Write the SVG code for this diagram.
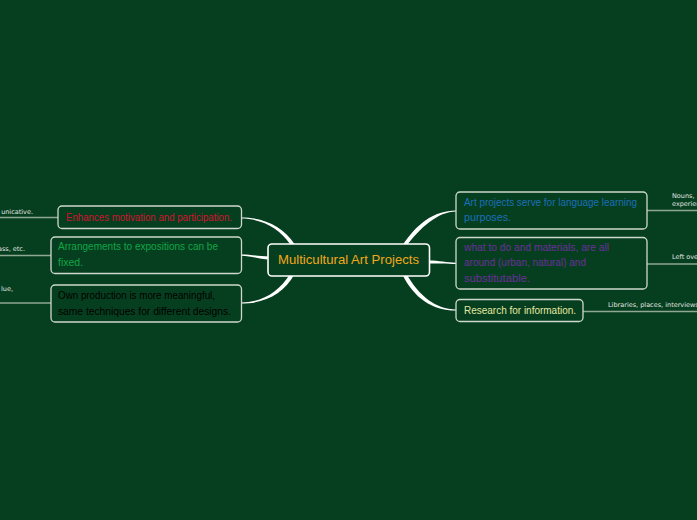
<svg xmlns="http://www.w3.org/2000/svg" width="697" height="520" viewBox="0 0 697 520">
<style>
.bg{fill:#063f1f}
.box{fill:#063f1f;stroke:#cfd8cf;stroke-width:1.3}
.main{fill:#063f1f;stroke:#ffffff;stroke-width:1.6}
.t{font-family:"Liberation Sans",Arial,sans-serif;font-size:10.5px}
.mt{font-family:"Liberation Sans",Arial,sans-serif;font-size:13px;fill:#f2a81a}
.s{font-family:"DejaVu Sans","Liberation Sans",sans-serif;font-size:6.5px;fill:#e0e6e0}
.ln{stroke:#8ea894;stroke-width:1.3;fill:none}
.br{fill:#ffffff}
</style>
<rect class="bg" x="0" y="0" width="697" height="520"/>
<g id="connectors">
<path class="br" d="M241,217.4 C263,217.4 283,226 294.5,244 L290,244 C279,228 262,218.6 241,218.6 Z"/>
<path class="br" d="M241,254.5 C252,254.5 258,256.5 270,256.5 L270,259.5 C258,259.5 252,255.7 241,255.7 Z"/>
<path class="br" d="M290,274 C279,292 262,302.4 241,302.4 L241,303.6 C264,303.6 284,294 294.5,274 Z"/>
<path class="br" d="M402,246 C416,224 434,210.4 456,210.4 L456,211.6 C438,211.6 420,228 406.5,246 Z"/>
<path class="br" d="M428,260.5 C440,260.5 446,262.7 456,262.7 L456,263.9 C446,263.9 440,263.5 428,263.5 Z"/>
<path class="br" d="M402,274 C414,298 432,310.6 456,310.6 L456,309.4 C436,309.4 419,296 406.5,274 Z"/>
<line class="ln" x1="0" y1="217.5" x2="58" y2="217.5"/>
<line class="ln" x1="0" y1="255.5" x2="51" y2="255.5"/>
<line class="ln" x1="0" y1="303" x2="51" y2="303"/>
<line class="ln" x1="647" y1="210.5" x2="697" y2="210.5"/>
<line class="ln" x1="647" y1="264" x2="697" y2="264"/>
<line class="ln" x1="583" y1="311.5" x2="697" y2="311.5"/>
</g>
<g id="center">
<rect class="main" x="268" y="244" width="161.5" height="32" rx="4"/>
<text class="mt" x="278" y="264" textLength="141" lengthAdjust="spacingAndGlyphs">Multicultural Art Projects</text>
</g>
<g id="left1">
<rect class="box" x="58" y="206" width="183.5" height="22.5" rx="4"/>
<text class="t" x="66" y="221" fill="#d0122e" textLength="166" lengthAdjust="spacingAndGlyphs">Enhances motivation and participation.</text>
<text class="s" x="33" y="213.5" text-anchor="end">unicative.</text>
</g>
<g id="left2">
<rect class="box" x="51" y="237" width="190.5" height="36.5" rx="4"/>
<text class="t" x="58" y="250" fill="#12a548" textLength="160" lengthAdjust="spacingAndGlyphs">Arrangements to expositions can be</text>
<text class="t" x="58" y="266" fill="#12a548">fixed.</text>
<text class="s" x="25" y="251" text-anchor="end">ass, etc.</text>
</g>
<g id="left3">
<rect class="box" x="51" y="285" width="190.5" height="37" rx="4"/>
<text class="t" x="58" y="298.5" fill="#000000" textLength="157" lengthAdjust="spacingAndGlyphs">Own production is more meaningful,</text>
<text class="t" x="58" y="314.5" fill="#000000" textLength="173" lengthAdjust="spacingAndGlyphs">same techniques for different designs.</text>
<text class="s" x="13" y="290.5" text-anchor="end">lue,</text>
</g>
<g id="right1">
<rect class="box" x="456" y="192" width="191" height="37" rx="4"/>
<text class="t" x="464" y="206" fill="#1a6fba" textLength="173" lengthAdjust="spacingAndGlyphs">Art projects serve for language learning</text>
<text class="t" x="464" y="221" fill="#1a6fba" textLength="47" lengthAdjust="spacingAndGlyphs">purposes.</text>
<text class="s" x="672" y="198">Nouns,</text>
<text class="s" x="672" y="206">experien</text>
</g>
<g id="right2">
<rect class="box" x="456" y="237.5" width="191" height="51.5" rx="4"/>
<text class="t" x="464" y="251" fill="#6b2e9c" textLength="145" lengthAdjust="spacingAndGlyphs">what to do and materials, are all</text>
<text class="t" x="464" y="266" fill="#6b2e9c" textLength="122" lengthAdjust="spacingAndGlyphs">around (urban, natural) and</text>
<text class="t" x="464" y="282" fill="#6b2e9c" textLength="66" lengthAdjust="spacingAndGlyphs">substitutable.</text>
<text class="s" x="672" y="259">Left ove</text>
</g>
<g id="right3">
<rect class="box" x="456" y="299.5" width="127" height="22" rx="4"/>
<text class="t" x="464" y="314" fill="#e6e8a2" textLength="112" lengthAdjust="spacingAndGlyphs">Research for information.</text>
<text class="s" x="608" y="306.5">Libraries, places, interviews</text>
</g>
</svg>
